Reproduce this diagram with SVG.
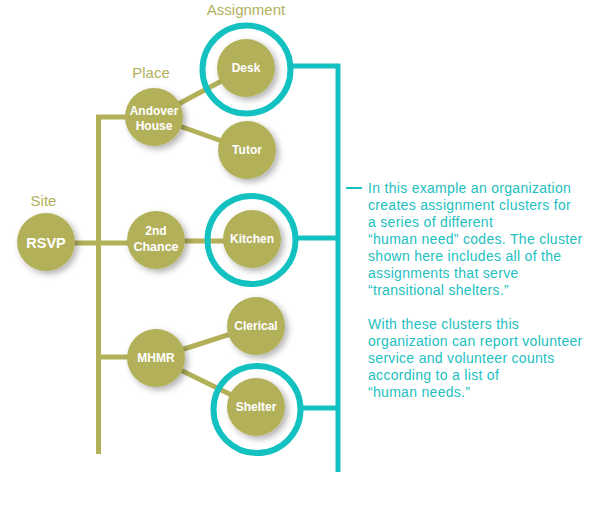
<svg xmlns="http://www.w3.org/2000/svg" width="595" height="508" viewBox="0 0 595 508">
<defs>
<filter id="sh" x="-40%" y="-40%" width="180%" height="180%">
<feDropShadow dx="3" dy="3" stdDeviation="3" flood-color="#000" flood-opacity="0.3"/>
</filter>
</defs>
<style>
.ol{stroke:#b3b05a;stroke-width:5;fill:none}
.tl{stroke:#14c1c1;stroke-width:5;fill:none}
.ring{stroke:#14c1c1;stroke-width:6;fill:none}
.n{fill:#b3b05a;filter:url(#sh)}
.lb{font-family:"Liberation Sans",Arial,sans-serif;font-weight:bold;font-size:12px;fill:#fff;text-anchor:middle}
.hd{font-family:"Liberation Sans",Arial,sans-serif;font-size:15px;fill:#b3b05a;text-anchor:middle}
.note{font-family:"Liberation Sans",Arial,sans-serif;font-size:14px;fill:#22c0c0;letter-spacing:0.3px}
</style>
<rect width="595" height="508" fill="#fff"/>
<text class="hd" x="246" y="15">Assignment</text>
<text class="hd" x="151" y="78">Place</text>
<text class="hd" x="43.5" y="206">Site</text>
<g id="connectors">
<polyline class="ol" points="154,117 98.5,117 98.5,454"/>
<line class="ol" x1="46" y1="243" x2="156" y2="243"/>
<line class="ol" x1="98.5" y1="357" x2="156" y2="357"/>
<line class="ol" x1="154" y1="117" x2="246" y2="68"/>
<line class="ol" x1="154" y1="117" x2="247" y2="150"/>
<line class="ol" x1="156" y1="241" x2="252" y2="241"/>
<line class="ol" x1="156" y1="358" x2="256" y2="326"/>
<line class="ol" x1="156" y1="358" x2="256" y2="407"/>
<polyline class="tl" points="290,66 338,66 338,472"/>
<line class="tl" x1="295" y1="238" x2="338" y2="238"/>
<line class="tl" x1="300" y1="408" x2="338" y2="408"/>
<line class="tl" x1="346" y1="188" x2="362" y2="188" style="stroke-width:2"/>
</g>
<g id="rsvp"><circle class="n" cx="46" cy="242" r="29"/><text class="lb" x="46" y="248" style="font-size:14.5px">RSVP</text></g>
<g id="andover"><circle class="n" cx="154" cy="117" r="29"/><text class="lb" x="154" y="115">Andover</text><text class="lb" x="154" y="130">House</text></g>
<g id="chance"><circle class="n" cx="156" cy="240" r="29"/><text class="lb" x="156" y="235">2nd</text><text class="lb" x="156" y="251" style="font-size:12.5px">Chance</text></g>
<g id="mhmr"><circle class="n" cx="156" cy="358" r="29"/><text class="lb" x="156" y="362">MHMR</text></g>
<g id="desk"><circle class="n" cx="246" cy="68" r="29"/><circle class="ring" cx="246.5" cy="69.5" r="44"/><text class="lb" x="246" y="72">Desk</text></g>
<g id="tutor"><circle class="n" cx="247" cy="150" r="29"/><text class="lb" x="247" y="154">Tutor</text></g>
<g id="kitchen"><circle class="n" cx="252" cy="239" r="29"/><circle class="ring" cx="251.5" cy="240" r="44"/><text class="lb" x="252" y="243">Kitchen</text></g>
<g id="clerical"><circle class="n" cx="256" cy="326" r="29"/><text class="lb" x="256" y="330">Clerical</text></g>
<g id="shelter"><circle class="n" cx="256" cy="407" r="29"/><circle class="ring" cx="257" cy="409.5" r="43.5"/><text class="lb" x="256" y="411">Shelter</text></g>
<g id="note">
<text class="note" x="368" y="193">In this example an organization</text>
<text class="note" x="368" y="210">creates assignment clusters for</text>
<text class="note" x="368" y="227">a series of different</text>
<text class="note" x="368" y="244">“human need” codes. The cluster</text>
<text class="note" x="368" y="261">shown here includes all of the</text>
<text class="note" x="368" y="278">assignments that serve</text>
<text class="note" x="368" y="295">“transitional shelters.”</text>
<text class="note" x="368" y="329">With these clusters this</text>
<text class="note" x="368" y="346">organization can report volunteer</text>
<text class="note" x="368" y="363">service and volunteer counts</text>
<text class="note" x="368" y="380">according to a list of</text>
<text class="note" x="368" y="397">“human needs.”</text>
</g>
</svg>
